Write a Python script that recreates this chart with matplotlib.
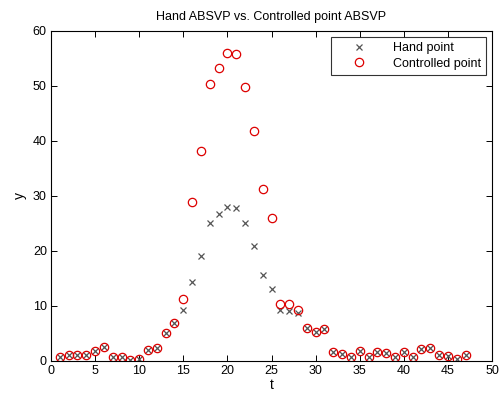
import matplotlib
matplotlib.use("Agg")
import matplotlib.pyplot as plt

plt.rcParams['font.family'] = ['Liberation Sans', 'DejaVu Sans']

t = list(range(1, 48))
controlled = [0.6, 1.0, 1.0, 1.0, 1.8, 2.5, 0.7, 0.6, 0.1, 0.3,
              1.9, 2.4, 5.0, 6.9, 11.2, 28.9, 38.2, 50.3, 53.3, 56.0,
              55.7, 49.8, 41.7, 31.3, 26.0, 10.4, 10.3, 9.2, 6.0, 5.2,
              5.7, 1.6, 1.2, 0.7, 1.8, 0.6, 1.5, 1.4, 0.6, 1.5,
              0.7, 2.1, 2.3, 1.0, 0.9, 0.3, 1.0]
hand = [0.6, 1.0, 1.0, 1.0, 1.8, 2.5, 0.7, 0.6, 0.1, 0.3,
        1.9, 2.4, 5.0, 6.9, 9.2, 14.3, 19.0, 25.1, 26.7, 27.9,
        27.7, 25.0, 20.9, 15.6, 13.0, 9.2, 9.0, 8.7, 6.0, 5.2,
        5.7, 1.6, 1.2, 0.7, 1.8, 0.6, 1.5, 1.4, 0.6, 1.5,
        0.7, 2.1, 2.3, 1.0, 0.9, 0.3, 1.0]

W, H = 501, 398
fig = plt.figure(figsize=(W / 100, H / 100), dpi=100)
ax = fig.add_axes([51 / W, 1 - 360.7 / H, (492 - 51) / W, (360.7 - 30.7) / H])

ax.plot(t, hand, linestyle='none', marker='x', color='#555555', markersize=4.5,
        markeredgewidth=0.9, label='Hand point')
ax.plot(t, controlled, linestyle='none', marker='o', markerfacecolor='none',
        markeredgecolor='#dd0000', markersize=6, markeredgewidth=0.9,
        label='Controlled point')

ax.set_xlim(0, 50)
ax.set_ylim(0, 60)
ax.set_xticks(range(0, 51, 5))
ax.set_yticks(range(0, 61, 10))
ax.tick_params(direction='in', length=4, labelsize=9, top=True, right=True,
               width=0.7, pad=3)
for s in ax.spines.values():
    s.set_linewidth(0.8)
ax.set_xlabel('t', fontsize=10, labelpad=1)
ax.set_ylabel('y', fontsize=10, labelpad=4)
ax.set_title('Hand ABSVP vs. Controlled point ABSVP', fontsize=9, pad=8)

leg = ax.legend(loc='upper right', fontsize=9, frameon=True, fancybox=False,
                edgecolor='black', borderaxespad=0.5, handlelength=3.6,
                handletextpad=0.9, borderpad=0.4, labelspacing=0.3)
leg.get_frame().set_linewidth(0.8)

fig.savefig('out.png', dpi=100)
